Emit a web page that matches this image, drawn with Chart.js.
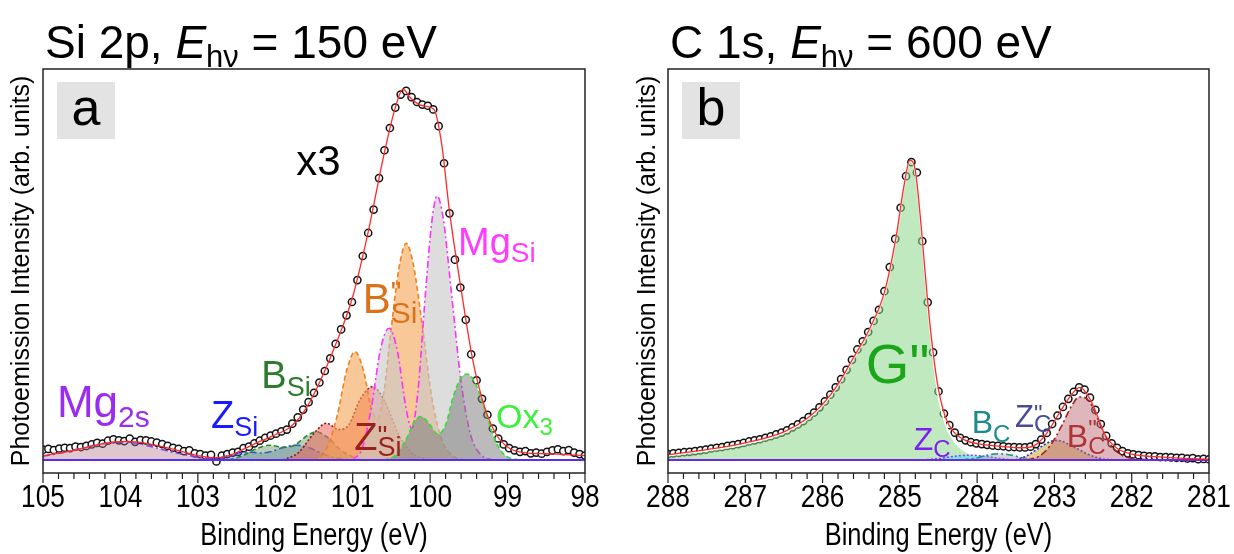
<!DOCTYPE html>
<html>
<head>
<meta charset="utf-8">
<script src="https://cdn.jsdelivr.net/npm/chart.js@4.4.1/dist/chart.umd.min.js"></script>
<style>
  html, body { margin: 0; padding: 0; background: #fff; }
  #wrap { position: relative; width: 1234px; height: 554px; }
  canvas { position: absolute; top: 0; }
  #ca { left: 0; }
  #cb { left: 617px; }
</style>
</head>
<body>
<div id="wrap">
  <canvas id="ca" width="617" height="554"></canvas>
  <canvas id="cb" width="617" height="554"></canvas>
</div>
<script>
// ---- Si 2p (panel a) ----
const siStart = 105, siStep = 0.07;
const siCounts = [
  0.028, 0.030, 0.027, 0.031, 0.033, 0.032, 0.036, 0.035, 0.038, 0.042,
  0.046, 0.044, 0.052, 0.056, 0.053, 0.051, 0.058, 0.049, 0.054, 0.053,
  0.050, 0.047, 0.043, 0.038, 0.033, 0.030, 0.024, 0.026, 0.018, 0.016,
  0.012, 0.014, -0.004, 0.012, 0.016, 0.020, 0.022, 0.032, 0.036, 0.045,
  0.052, 0.060, 0.066, 0.071, 0.077, 0.082, 0.098, 0.115, 0.136, 0.156,
  0.181, 0.209, 0.240, 0.274, 0.313, 0.352, 0.390, 0.426, 0.485, 0.550,
  0.612, 0.675, 0.760, 0.835, 0.895, 0.950, 0.985, 0.995, 0.978, 0.965,
  0.958, 0.955, 0.945, 0.900, 0.800, 0.665, 0.540, 0.465, 0.378, 0.285,
  0.215, 0.165, 0.122, 0.085, 0.058, 0.042, 0.032, 0.026, 0.022, 0.024,
  0.018, 0.020, 0.017, 0.022, 0.026, 0.029, 0.024, 0.027, 0.020, 0.016,
  0.012
];
const siFit = [[105.0,0.012],[104.7,0.022],[104.4,0.036],[104.1,0.048],[103.9,0.050],[103.6,0.042],[103.3,0.028],[103.0,0.012],[102.8,0.006],[102.6,0.012],[102.4,0.030],[102.2,0.050],[102.0,0.068],[101.8,0.090],[101.6,0.140],[101.4,0.222],[101.2,0.322],[101.0,0.440],[100.8,0.615],[100.6,0.820],[100.45,0.950],[100.35,1.000],[100.25,0.975],[100.1,0.955],[99.95,0.945],[99.85,0.850],[99.75,0.670],[99.6,0.460],[99.45,0.270],[99.3,0.145],[99.15,0.070],[99.0,0.035],[98.8,0.020],[98.5,0.017],[98.2,0.014],[98.0,0.012]];
const mg2s = [[105.0,0.010],[104.7,0.022],[104.4,0.037],[104.2,0.045],[104.0,0.048],[103.8,0.045],[103.6,0.036],[103.3,0.020],[103.0,0.008],[102.8,0.003],[102.6,0]];
const zSi = [[102.9,0],[102.7,0.006],[102.55,0.015],[102.37,0.022],[102.2,0.019],[102.05,0.023],[101.88,0.035],[101.72,0.040],[101.56,0.033],[101.4,0.018],[101.25,0.007],[101.1,0.002],[100.9,0]];
const bSi = [[102.6,0],[102.42,0.012],[102.25,0.030],[102.07,0.040],[101.9,0.034],[101.75,0.040],[101.6,0.064],[101.47,0.076],[101.32,0.060],[101.16,0.028],[101.0,0.009],[100.8,0]];
const zppSi = [[101.9,0],[101.7,0.020],[101.5,0.072],[101.34,0.099],[101.18,0.082],[101.05,0.095],[100.9,0.165],[100.74,0.198],[100.58,0.155],[100.42,0.075],[100.25,0.022],[100.05,0.003],[99.9,0]];
const bppSi = [[101.5,0],[101.35,0.025],[101.2,0.120],[101.08,0.240],[100.97,0.292],[100.86,0.240],[100.76,0.140],[100.68,0.110],[100.6,0.180],[100.5,0.360],[100.4,0.520],[100.31,0.584],[100.22,0.530],[100.1,0.360],[99.98,0.170],[99.85,0.055],[99.7,0.010],[99.55,0]];
const mgSi = [[101.0,0],[100.88,0.030],[100.76,0.140],[100.64,0.300],[100.53,0.355],[100.42,0.290],[100.32,0.150],[100.24,0.085],[100.16,0.180],[100.06,0.450],[99.98,0.640],[99.91,0.712],[99.83,0.650],[99.72,0.440],[99.6,0.210],[99.48,0.070],[99.35,0.015],[99.2,0]];
const ox3 = [[100.6,0],[100.45,0.012],[100.3,0.060],[100.2,0.105],[100.12,0.117],[100.02,0.100],[99.9,0.070],[99.8,0.095],[99.7,0.172],[99.6,0.222],[99.52,0.232],[99.43,0.212],[99.3,0.140],[99.17,0.058],[99.05,0.016],[98.9,0.002],[98.75,0]];
const siTicks = [105, 104, 103, 102, 101, 100, 99, 98];

// ---- C 1s (panel b) ----
const cStart = 288, cStep = 0.07;
const cCounts = [
  0.016, 0.018, 0.019, 0.021, 0.022, 0.024, 0.026, 0.028, 0.031, 0.033,
  0.035, 0.038, 0.040, 0.043, 0.046, 0.050, 0.053, 0.056, 0.060, 0.064,
  0.069, 0.074, 0.080, 0.088, 0.096, 0.105, 0.116, 0.128, 0.142, 0.158,
  0.176, 0.196, 0.218, 0.243, 0.270, 0.298, 0.320, 0.345, 0.375, 0.405,
  0.455, 0.520, 0.596, 0.680, 0.765, 0.803, 0.775, 0.590, 0.425, 0.290,
  0.185, 0.125, 0.094, 0.074, 0.060, 0.053, 0.048, 0.045, 0.043, 0.041,
  0.039, 0.038, 0.037, 0.035, 0.035, 0.034, 0.034, 0.036, 0.043, 0.055,
  0.073, 0.097, 0.120, 0.143, 0.165, 0.184, 0.196, 0.190, 0.168, 0.135,
  0.097, 0.065, 0.045, 0.033, 0.024, 0.018, 0.015, 0.013, 0.011, 0.010,
  0.010, 0.008, 0.008, 0.007, 0.006, 0.006, 0.004, 0.005, 0.002, 0.003,
  0.002
];
const cFit = [[288,0.014],[287.5,0.028],[287,0.046],[286.5,0.076],[286.2,0.112],[286.0,0.150],[285.8,0.204],[285.6,0.276],[285.4,0.350],[285.2,0.452],[285.05,0.600],[284.95,0.735],[284.87,0.808],[284.8,0.780],[284.72,0.620],[284.65,0.450],[284.57,0.290],[284.5,0.190],[284.4,0.110],[284.3,0.075],[284.15,0.053],[284.0,0.044],[283.7,0.037],[283.4,0.033],[283.25,0.040],[283.1,0.072],[282.95,0.122],[282.8,0.170],[282.67,0.196],[282.55,0.168],[282.45,0.122],[282.35,0.070],[282.2,0.033],[282.0,0.016],[281.6,0.008],[281.0,0.002]];
const gpp = [[288,0.012],[287.5,0.025],[287,0.043],[286.5,0.073],[286.2,0.109],[286.0,0.147],[285.8,0.201],[285.6,0.273],[285.4,0.347],[285.2,0.449],[285.05,0.597],[284.95,0.732],[284.87,0.805],[284.8,0.775],[284.72,0.612],[284.65,0.440],[284.57,0.275],[284.5,0.170],[284.4,0.090],[284.3,0.052],[284.2,0.030],[284.05,0.013],[283.9,0.005],[283.7,0.001],[283.5,0]];
const zC = [[284.7,0],[284.5,0.004],[284.3,0.010],[284.1,0.013],[283.9,0.010],[283.7,0.004],[283.5,0]];
const bC = [[284.2,0],[284.0,0.006],[283.85,0.014],[283.72,0.017],[283.55,0.013],[283.4,0.005],[283.2,0]];
const zppC = [[283.5,0],[283.35,0.012],[283.2,0.032],[283.05,0.050],[282.96,0.053],[282.85,0.046],[282.7,0.030],[282.55,0.014],[282.4,0.004],[282.2,0]];
const bppC = [[283.35,0],[283.2,0.010],[283.05,0.040],[282.9,0.095],[282.78,0.145],[282.68,0.170],[282.6,0.168],[282.5,0.140],[282.4,0.092],[282.3,0.050],[282.2,0.024],[282.1,0.010],[281.95,0.003],[281.8,0]];
const cTicks = [288, 287, 286, 285, 284, 283, 282, 281];

const SANS = "'Liberation Sans', Arial, sans-serif";
const SQUEEZE = 0.82; // axis labels in the original use a condensed face

const xy = arr => arr.map(p => ({ x: p[0], y: p[1] }));
const scan = (start, step, vals) => vals.map((v, i) => ({ x: +(start - i * step).toFixed(2), y: v }));

function circles(data) {
  return { data, showLine: false, pointRadius: 3.6, pointBorderWidth: 1.5,
    pointBorderColor: '#111', pointBackgroundColor: '#fff', order: 100 };
}
function line(data, color, width, order) {
  return { data: xy(data), borderColor: color, borderWidth: width, pointRadius: 0,
    fill: false, cubicInterpolationMode: 'monotone', order };
}
function comp(data, border, fillc, dash, order) {
  return { data: xy(data), borderColor: border, backgroundColor: fillc, borderWidth: 1.6,
    borderDash: dash, pointRadius: 0, fill: 'origin', cubicInterpolationMode: 'monotone', order };
}

const DASH = [5, 3], DOT = [2, 2], DASHDOT = [7, 3, 2, 3];

// write mixed-size text (sub/superscripts)
function rich(ctx, x, y, parts, color) {
  ctx.fillStyle = color;
  ctx.textAlign = 'left';
  ctx.textBaseline = 'alphabetic';
  let cx = x;
  parts.forEach(p => {
    ctx.font = (p.it ? 'italic ' : '') + p.s + 'px ' + SANS;
    ctx.fillText(p.t, cx, y + (p.dy || 0));
    if (!p.keep) cx += ctx.measureText(p.t).width;
  });
}

function squeezed(ctx, text, x, y, size) {
  ctx.save();
  ctx.translate(x, y);
  ctx.scale(SQUEEZE, 1);
  ctx.font = size + 'px ' + SANS;
  ctx.textAlign = 'center';
  ctx.textBaseline = 'alphabetic';
  ctx.fillStyle = '#000';
  ctx.fillText(text, 0, 0);
  ctx.restore();
}

function decor(letter, title, ticks, labels) {
  return {
    id: 'decor',
    afterDraw(chart) {
      const { ctx, chartArea: a, scales: { x, y } } = chart;
      ctx.save();
      // frame
      ctx.strokeStyle = '#222';
      ctx.lineWidth = 1.5;
      ctx.strokeRect(a.left, a.top, a.right - a.left, a.bottom - a.top);
      // outward ticks, minor every 0.2
      ctx.lineWidth = 1.2;
      ctx.beginPath();
      for (let k = 0; k <= 35; k++) {
        const px = x.getPixelForValue(x.min + k * 0.2);
        const len = k % 5 === 0 ? 10 : 6;
        ctx.moveTo(px, a.bottom);
        ctx.lineTo(px, a.bottom + len);
      }
      ctx.stroke();
      ticks.forEach(t => squeezed(ctx, String(t), x.getPixelForValue(t), 507, 32));
      squeezed(ctx, 'Binding Energy (eV)', (a.left + a.right) / 2, 545, 31);
      // panel letter
      ctx.fillStyle = '#e3e3e3';
      ctx.fillRect(a.left + 14, a.top + 13, 58, 57);
      ctx.fillStyle = '#000';
      ctx.font = '52px ' + SANS;
      ctx.textAlign = 'center';
      ctx.textBaseline = 'alphabetic';
      ctx.fillText(letter, a.left + 43, a.top + 56);
      // title above the frame
      rich(ctx, a.left + 2, 58, title, '#000');
      // peak labels, anchored in data units
      labels.forEach(l => {
        rich(ctx, x.getPixelForValue(l.e), y.getPixelForValue(l.v), l.parts, l.color);
      });
      ctx.restore();
    }
  };
}

function options(xmin, xmax, yWidth, rightPad, titlePad) {
  return {
    responsive: false,
    animation: false,
    devicePixelRatio: 1,
    layout: { padding: { left: 0, top: 69, right: rightPad, bottom: 0 } },
    plugins: { legend: { display: false }, tooltip: { enabled: false } },
    scales: {
      x: {
        type: 'linear', reverse: true, min: xmin, max: xmax,
        afterFit: s => { s.height = 81; },
        grid: { display: false, drawTicks: false },
        border: { display: false },
        ticks: { display: false, stepSize: 1 }
      },
      y: {
        min: -0.035, max: 1.054,
        afterFit: s => { s.width = yWidth; },
        grid: { display: false, drawTicks: false },
        border: { display: false },
        ticks: { display: false },
        title: { display: true, text: 'Photoemission Intensity (arb. units)', color: '#000',
          font: { family: SANS, size: 25 }, padding: { top: titlePad, bottom: 0 } }
      }
    }
  };
}

const S = (t, s, dy, extra) => Object.assign({ t, s, dy }, extra || {});

new Chart(document.getElementById('ca'), {
  type: 'line',
  data: {
    datasets: [
      circles(scan(siStart, siStep, siCounts)),
      line(siFit, '#ff2a2a', 1.3, 1),
      line([[105, 0], [98, 0]], '#5a2cf0', 2.2, 2),
      comp(mg2s, '#8a40e0', 'rgba(175,115,135,0.40)', DASHDOT, 20),
      comp(zSi, '#2040ff', 'rgba(90,110,200,0.35)', DASHDOT, 19),
      comp(bSi, '#2a8a2a', 'rgba(80,140,80,0.40)', DASH, 18),
      comp(zppSi, '#8b1a1a', 'rgba(240,100,90,0.55)', DOT, 17),
      comp(bppSi, '#f08020', 'rgba(245,160,80,0.58)', DASH, 16),
      comp(mgSi, '#ff30ff', 'rgba(200,200,200,0.62)', DASHDOT, 15),
      comp(ox3, '#30e030', 'rgba(120,120,120,0.50)', DASH, 14)
    ]
  },
  options: options(98, 105, 43, 32, 7),
  plugins: [decor('a',
    [S('Si 2p, ', 46), S('E', 46, 0, { it: true }), S('h\u03bd', 31, 9), S(' = 150 eV', 46)],
    siTicks,
    [
      { e: 101.73, v: 0.768, color: '#000', parts: [S('x3', 42)] },
      { e: 104.82, v: 0.116, color: '#9a2cf0', parts: [S('Mg', 44), S('2s', 30, 10)] },
      { e: 102.83, v: 0.086, color: '#1a1aff', parts: [S('Z', 38), S('Si', 27, 8)] },
      { e: 102.18, v: 0.194, color: '#2e7a2e', parts: [S('B', 38), S('Si', 27, 8)] },
      { e: 100.87, v: 0.396, color: '#d9731a', parts: [S('B', 42), S('"', 30, -11, { keep: true }), S('Si', 30, 10)] },
      { e: 100.98, v: 0.027, color: '#9b2020', parts: [S('Z', 38), S('"', 28, -5, { keep: true }), S('Si', 27, 6)] },
      { e: 99.64, v: 0.553, color: '#ff3cff', parts: [S('Mg', 38), S('Si', 28, 7)] },
      { e: 99.15, v: 0.086, color: '#3cf03c', parts: [S('Ox', 34), S('3', 24, 7)] }
    ])]
});

new Chart(document.getElementById('cb'), {
  type: 'line',
  data: {
    datasets: [
      circles(scan(cStart, cStep, cCounts)),
      line(cFit, '#ff2a2a', 1.3, 1),
      line([[288, 0], [281, 0]], '#6a2adf', 2.2, 2),
      comp(gpp, '#ffffff', 'rgba(140,215,140,0.55)', [], 20),
      comp(zC, '#8040ff', 'rgba(80,230,240,0.6)', DOT, 19),
      comp(bC, '#1a9090', 'rgba(150,150,150,0.4)', DASHDOT, 18),
      comp(zppC, '#3030c0', 'rgba(200,170,60,0.55)', DOT, 17),
      comp(bppC, '#a02020', 'rgba(190,110,120,0.50)', DASHDOT, 16)
    ]
  },
  options: options(281, 288, 51, 25, 16),
  plugins: [decor('b',
    [S('C 1s, ', 46), S('E', 46, 0, { it: true }), S('h\u03bd', 31, 9), S(' = 600 eV', 46)],
    cTicks,
    [
      { e: 285.44, v: 0.208, color: '#1aa51a', parts: [S('G"', 56)] },
      { e: 284.82, v: 0.027, color: '#7c1ff0', parts: [S('Z', 32), S('C', 24, 7)] },
      { e: 284.07, v: 0.073, color: '#1a8c8c', parts: [S('B', 32), S('C', 24, 9)] },
      { e: 283.51, v: 0.089, color: '#4a4a9a', parts: [S('Z', 31), S('"', 24, -5, { keep: true }), S('C', 24, 5)] },
      { e: 282.84, v: 0.035, color: '#b03434', parts: [S('B', 32), S('"', 24, -10, { keep: true }), S('C', 24, 7)] }
    ])]
});
</script>
</body>
</html>
